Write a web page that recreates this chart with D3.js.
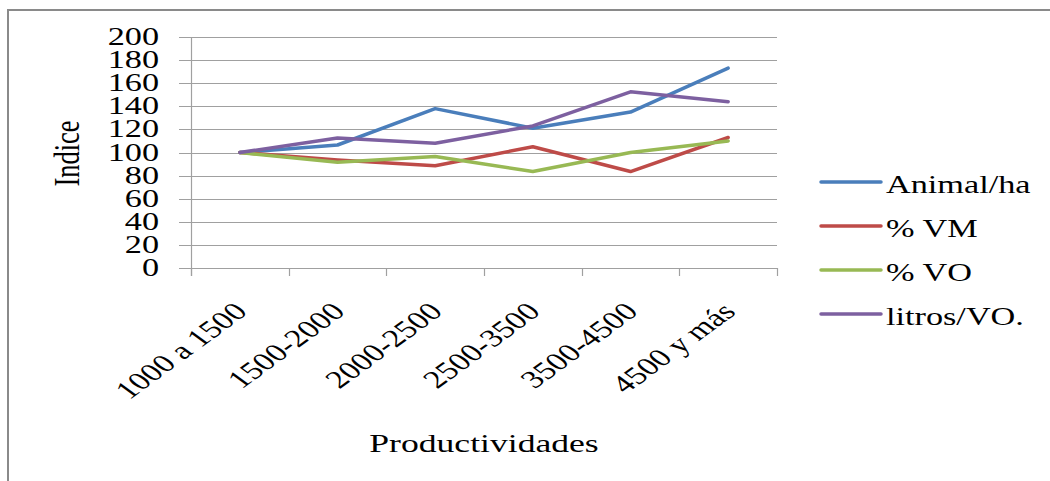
<!DOCTYPE html>
<html>
<head>
<meta charset="utf-8">
<script src="https://cdn.jsdelivr.net/npm/d3@7"></script>
<style>
  html, body { margin: 0; padding: 0; background: #fff; }
  svg { display: block; }
  text { font-family: "Liberation Serif", "Times New Roman", serif; fill: #000; }
</style>
</head>
<body>
<svg id="chart" width="1050" height="481"></svg>
<script>
// Productivity classes (litres) on the x axis
const categories = ["1000 a 1500", "1500-2000", "2000-2500", "2500-3500", "3500-4500", "4500 y más"];

// Index values per series (base 100 at the first class)
const animalHa  = [100, 106.5, 138, 121, 135, 173];
const pctVM     = [100, 93.5, 88.5, 105, 83.5, 113];
const pctVO     = [100, 91.5, 96.5, 83.5, 100, 110];
const litrosVO  = [100, 112.5, 108, 123, 152.5, 144];

const seriesNames  = ["Animal/ha", "% VM", "% VO", "litros/VO."];
const seriesValues = [animalHa, pctVM, pctVO, litrosVO];
const seriesColors = ["#4a7ebb", "#be4b48", "#98b954", "#7d60a0"];

const yTicks = [0, 20, 40, 60, 80, 100, 120, 140, 160, 180, 200];

const svg = d3.select("#chart");
const SX = 1.37;   // horizontal stretch of all lettering
const FS = 25;

const plot = { left: 191, right: 777, top: 37, bottom: 268 };

const x = d3.scaleBand().domain(categories).range([plot.left, plot.right]).padding(0);
const cx = c => x(c) + x.bandwidth() / 2;
const y = d3.scaleLinear().domain([0, 200]).range([plot.bottom, plot.top]);

function label(g, str, tx, ty, rot, anchor, size) {
  return g.append("text")
    .attr("transform", `translate(${tx},${ty}) scale(${SX},1) rotate(${rot})`)
    .attr("text-anchor", anchor)
    .style("font-size", (size || FS) + "px")
    .text(str);
}

// Outer frame (top and left edges)
svg.append("path")
  .attr("d", "M8,481 L8,10 L1050,10")
  .attr("fill", "none")
  .attr("stroke", "#8a8a8a")
  .attr("stroke-width", 2);

// Horizontal gridlines with their outside ticks
const grid = svg.append("g");
grid.selectAll("line")
  .data(yTicks)
  .join("line")
  .attr("x1", plot.left - 12)
  .attr("x2", plot.right)
  .attr("y1", d => Math.round(y(d)) + 0.5)
  .attr("y2", d => Math.round(y(d)) + 0.5)
  .attr("stroke", "#a0a0a0")
  .attr("stroke-width", 1.2);

// Vertical axis line
svg.append("line")
  .attr("x1", plot.left + 0.5).attr("x2", plot.left + 0.5)
  .attr("y1", plot.top).attr("y2", plot.bottom + 8)
  .attr("stroke", "#a0a0a0").attr("stroke-width", 1.2);

// Category boundary ticks under the x axis
const edges = categories.map(c => x(c)).concat([x(categories[categories.length - 1]) + x.bandwidth()]);
svg.append("g").selectAll("line")
  .data(edges)
  .join("line")
  .attr("x1", d => Math.round(d) + 0.5)
  .attr("x2", d => Math.round(d) + 0.5)
  .attr("y1", plot.bottom)
  .attr("y2", plot.bottom + 8)
  .attr("stroke", "#a0a0a0")
  .attr("stroke-width", 1.2);

// Y tick labels
const yl = svg.append("g");
yTicks.forEach(t => label(yl, String(t), 159, y(t) + 8, 0, "end"));

// X tick labels, slanted
const xl = svg.append("g");
categories.forEach(c => label(xl, c, cx(c) + 9, 313, -45, "end"));

// Axis titles
label(svg, "Indice", 79, 153.5, -90, "middle", 26.5);
label(svg, "Productividades", (plot.left + plot.right) / 2, 452, 0, "middle", 26);

// Series lines
const line = d3.line()
  .x((d, i) => cx(categories[i]))
  .y(d => y(d));

svg.append("g").selectAll("path")
  .data(seriesValues)
  .join("path")
  .attr("d", d => line(d))
  .attr("fill", "none")
  .attr("stroke", (d, i) => seriesColors[i])
  .attr("stroke-width", 3.5)
  .attr("stroke-linejoin", "round")
  .attr("stroke-linecap", "round");

// Legend
const legend = svg.append("g");
seriesNames.forEach((name, i) => {
  const ly = 182 + i * 44;
  legend.append("line")
    .attr("x1", 821).attr("x2", 881)
    .attr("y1", ly).attr("y2", ly)
    .attr("stroke", seriesColors[i])
    .attr("stroke-width", 3.5)
    .attr("stroke-linecap", "round");
  label(legend, name, 886, ly + 11, 0, "start");
});
</script>
</body>
</html>
